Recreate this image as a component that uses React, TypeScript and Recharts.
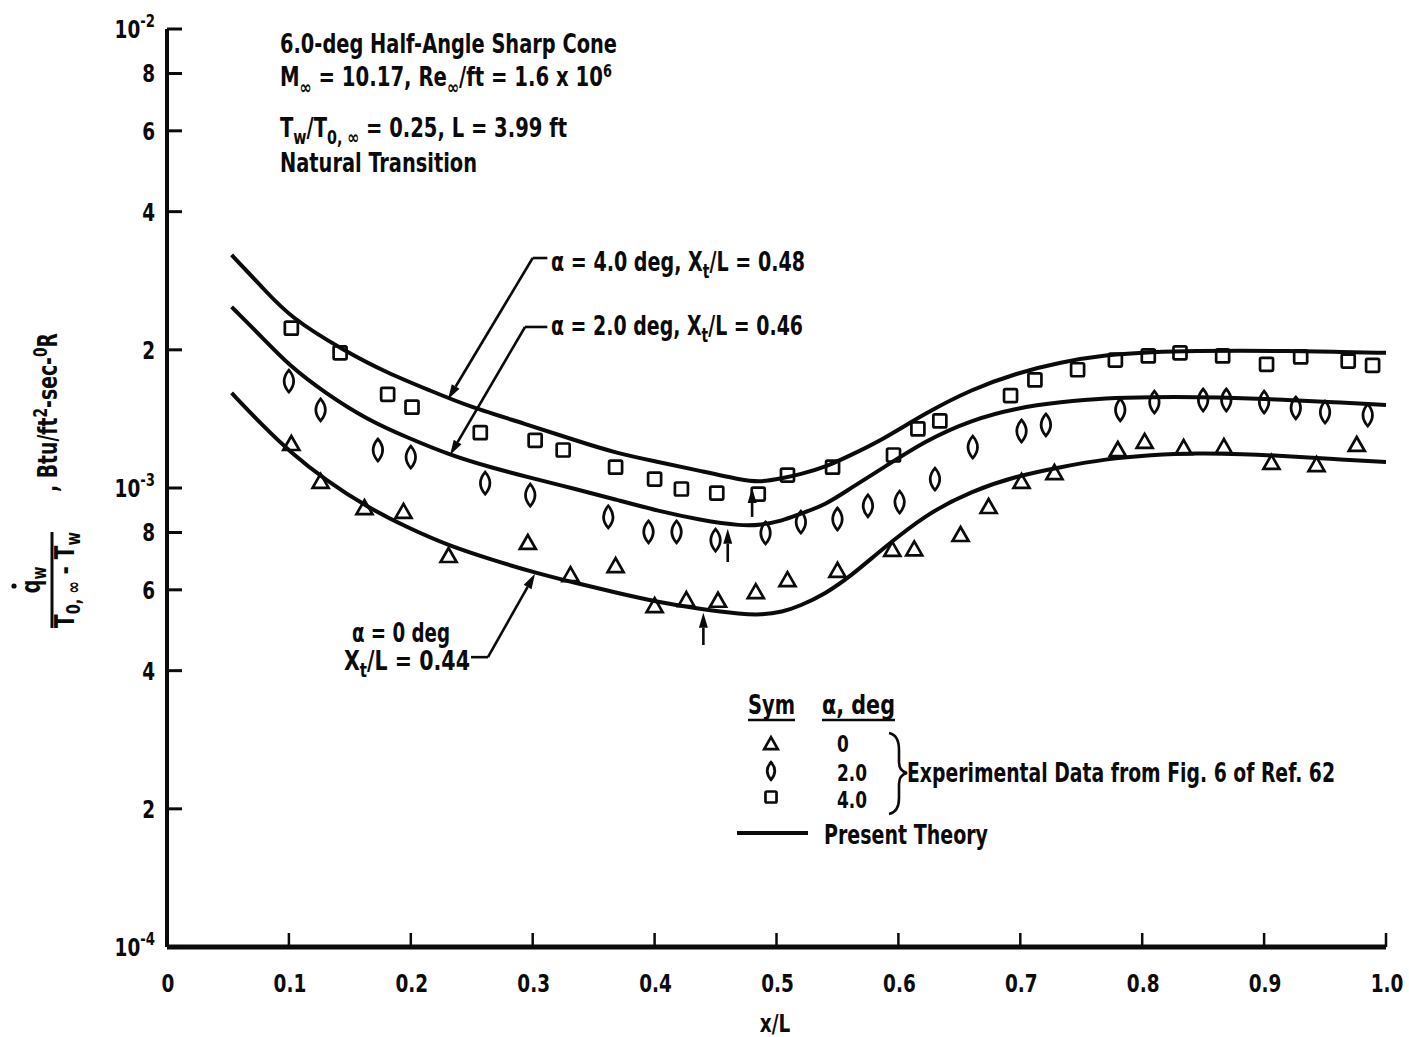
import { ComposedChart, Line, Scatter, XAxis, YAxis, ReferenceLine } from "recharts";

const W = 1409;
const H = 1037;
const PLOT_LEFT = 167;
const PLOT_BOTTOM = 947;

const FONT = "'Liberation Sans Narrow', 'Arial Narrow', 'DejaVu Sans Condensed', sans-serif";
const INK = "#0b0b0b";
const SX = 0.82; // horizontal squeeze for the lettering

// axis ticks
const xTicks = [0, 0.1, 0.2, 0.3, 0.4, 0.5, 0.6, 0.7, 0.8, 0.9, 1.0];
const xTickLabels = ["0", "0.1", "0.2", "0.3", "0.4", "0.5", "0.6", "0.7", "0.8", "0.9", "1.0"];
const yTicks = [1e-4, 2e-4, 4e-4, 6e-4, 8e-4, 1e-3, 2e-3, 4e-3, 6e-3, 8e-3, 1e-2];
const yTickBase = ["10", "2", "4", "6", "8", "10", "2", "4", "6", "8", "10"];
const yTickExp = ["-4", "", "", "", "", "-3", "", "", "", "", "-2"];

// experimental data, alpha = 0 deg (triangles)
const a0X = [0.102, 0.126, 0.162, 0.194, 0.231, 0.296, 0.331, 0.368, 0.4, 0.426, 0.452, 0.483, 0.509, 0.55, 0.595, 0.613, 0.651, 0.674, 0.701, 0.728, 0.78, 0.802, 0.834, 0.867, 0.906, 0.943, 0.976];
const a0Q = [1.247e-3, 1.031e-3, 0.904e-3, 0.887e-3, 0.711e-3, 0.759e-3, 0.646e-3, 0.676e-3, 0.553e-3, 0.57e-3, 0.568e-3, 0.593e-3, 0.63e-3, 0.66e-3, 0.733e-3, 0.735e-3, 0.79e-3, 0.909e-3, 1.031e-3, 1.078e-3, 1.21e-3, 1.26e-3, 1.222e-3, 1.228e-3, 1.134e-3, 1.122e-3, 1.241e-3];

// experimental data, alpha = 2 deg (diamonds)
const a2X = [0.1, 0.126, 0.173, 0.2, 0.261, 0.298, 0.362, 0.395, 0.418, 0.45, 0.491, 0.52, 0.55, 0.575, 0.601, 0.63, 0.661, 0.701, 0.721, 0.782, 0.81, 0.85, 0.869, 0.9, 0.926, 0.95, 0.985];
const a2Q = [1.71e-3, 1.48e-3, 1.21e-3, 1.168e-3, 1.025e-3, 0.965e-3, 0.865e-3, 0.802e-3, 0.802e-3, 0.77e-3, 0.798e-3, 0.843e-3, 0.856e-3, 0.914e-3, 0.932e-3, 1.046e-3, 1.228e-3, 1.331e-3, 1.372e-3, 1.479e-3, 1.539e-3, 1.555e-3, 1.555e-3, 1.539e-3, 1.494e-3, 1.464e-3, 1.442e-3];

// experimental data, alpha = 4 deg (squares)
const a4X = [0.102, 0.142, 0.181, 0.201, 0.257, 0.302, 0.325, 0.368, 0.4, 0.422, 0.451, 0.485, 0.509, 0.546, 0.596, 0.616, 0.634, 0.692, 0.712, 0.747, 0.778, 0.805, 0.831, 0.866, 0.902, 0.93, 0.969, 0.989];
const a4Q = [2.23e-3, 1.97e-3, 1.6e-3, 1.5e-3, 1.32e-3, 1.27e-3, 1.21e-3, 1.11e-3, 1.046e-3, 0.995e-3, 0.975e-3, 0.97e-3, 1.067e-3, 1.11e-3, 1.18e-3, 1.345e-3, 1.4e-3, 1.59e-3, 1.72e-3, 1.81e-3, 1.9e-3, 1.94e-3, 1.97e-3, 1.94e-3, 1.86e-3, 1.93e-3, 1.89e-3, 1.85e-3];

// present theory curves
const th0X = [0.053, 0.078, 0.101, 0.13, 0.164, 0.198, 0.232, 0.267, 0.3, 0.335, 0.369, 0.403, 0.437, 0.472, 0.487, 0.505, 0.519, 0.54, 0.561, 0.586, 0.623, 0.66, 0.697, 0.733, 0.77, 0.807, 0.845, 0.882, 0.919, 0.956, 1.0];
const th0Q = [1.611e-3, 1.372e-3, 1.198e-3, 1.041e-3, 0.909e-3, 0.818e-3, 0.747e-3, 0.697e-3, 0.656e-3, 0.621e-3, 0.591e-3, 0.564e-3, 0.545e-3, 0.531e-3, 0.529e-3, 0.537e-3, 0.553e-3, 0.588e-3, 0.643e-3, 0.733e-3, 0.878e-3, 0.985e-3, 1.062e-3, 1.111e-3, 1.157e-3, 1.18e-3, 1.192e-3, 1.186e-3, 1.174e-3, 1.157e-3, 1.139e-3];

const th2X = [0.053, 0.078, 0.101, 0.13, 0.164, 0.198, 0.232, 0.267, 0.3, 0.335, 0.369, 0.403, 0.437, 0.472, 0.487, 0.505, 0.519, 0.54, 0.561, 0.586, 0.623, 0.66, 0.697, 0.733, 0.77, 0.808, 0.845, 0.882, 0.919, 0.956, 1.0];
const th2Q = [2.48e-3, 2.13e-3, 1.84e-3, 1.61e-3, 1.41e-3, 1.285e-3, 1.18e-3, 1.106e-3, 1.05e-3, 0.995e-3, 0.942e-3, 0.891e-3, 0.852e-3, 0.826e-3, 0.831e-3, 0.848e-3, 0.878e-3, 0.918e-3, 1.0e-3, 1.1e-3, 1.272e-3, 1.407e-3, 1.494e-3, 1.539e-3, 1.571e-3, 1.578e-3, 1.578e-3, 1.571e-3, 1.555e-3, 1.539e-3, 1.517e-3];

const th4X = [0.053, 0.078, 0.101, 0.147, 0.181, 0.216, 0.249, 0.294, 0.335, 0.369, 0.403, 0.437, 0.472, 0.487, 0.505, 0.519, 0.54, 0.561, 0.586, 0.623, 0.66, 0.697, 0.733, 0.77, 0.808, 0.845, 0.882, 0.919, 0.956, 1.0];
const th4Q = [3.22e-3, 2.74e-3, 2.35e-3, 1.98e-3, 1.78e-3, 1.63e-3, 1.5e-3, 1.38e-3, 1.27e-3, 1.19e-3, 1.14e-3, 1.09e-3, 1.04e-3, 1.03e-3, 1.05e-3, 1.07e-3, 1.11e-3, 1.18e-3, 1.27e-3, 1.46e-3, 1.64e-3, 1.78e-3, 1.88e-3, 1.95e-3, 1.98e-3, 1.99e-3, 1.99e-3, 1.99e-3, 1.98e-3, 1.97e-3];

// transition locations Xt/L and arrow extents
const transX = [0.44, 0.46, 0.48];
const transFrom = [4.55e-4, 6.9e-4, 8.65e-4];
const transTo = [5.35e-4, 8.15e-4, 1.0e-3];

const pts = (xs: number[], ys: number[]) => xs.map((x, i) => ({ x, y: ys[i] }));

const triangleMark = (cx: number, cy: number, s = 1) => (
  <polygon
    points={`${cx},${cy - 8 * s} ${cx - 8 * s},${cy + 6 * s} ${cx + 8 * s},${cy + 6 * s}`}
    fill="none"
    stroke={INK}
    strokeWidth={2.7}
  />
);

const lensMark = (cx: number, cy: number, s = 1) => (
  <path
    d={`M${cx},${cy - 11 * s} Q${cx + 9.5 * s},${cy} ${cx},${cy + 11 * s} Q${cx - 9.5 * s},${cy} ${cx},${cy - 11 * s}Z`}
    fill="none"
    stroke={INK}
    strokeWidth={2.7}
  />
);

const squareMark = (cx: number, cy: number, s = 1) => (
  <rect
    x={cx - 6.5 * s}
    y={cy - 6.5 * s}
    width={13 * s}
    height={13 * s}
    rx={1.5}
    fill="none"
    stroke={INK}
    strokeWidth={2.7}
  />
);

const arrowLine = (props: any) => {
  const { x1, y1, x2, y2 } = props;
  const dx = x2 - x1;
  const dy = y2 - y1;
  const len = Math.hypot(dx, dy) || 1;
  const ux = dx / len;
  const uy = dy / len;
  const head = 15;
  const half = 4.5;
  const bx = x2 - ux * head;
  const by = y2 - uy * head;
  return (
    <g>
      <line x1={x1} y1={y1} x2={bx} y2={by} stroke={INK} strokeWidth={2.6} />
      <polygon
        points={`${x2},${y2} ${bx - uy * half},${by + ux * half} ${bx + uy * half},${by - ux * half}`}
        fill={INK}
      />
    </g>
  );
};

// narrow bold lettering; w = drawn width in px when given
const Label = ({ x, y, w, size = 26, anchor = "start", children }: any) => (
  <text
    transform={`translate(${x},${y}) scale(${SX},1)`}
    textLength={w ? w / SX : undefined}
    lengthAdjust={w ? "spacingAndGlyphs" : undefined}
    textAnchor={anchor}
    fontFamily={FONT}
    fontWeight="bold"
    fontSize={size}
    fill={INK}
  >
    {children}
  </text>
);

const XTick = (props: any) => {
  const { payload } = props;
  const x = payload.coordinate;
  const i = xTicks.findIndex((v) => Math.abs(v - payload.value) < 1e-9);
  return (
    <g>
      <line x1={x} x2={x} y1={PLOT_BOTTOM} y2={PLOT_BOTTOM - 14} stroke={INK} strokeWidth={2.5} />
      <Label x={x + 1} y={992} size={25} anchor="middle">
        {xTickLabels[i]}
      </Label>
    </g>
  );
};

const YTick = (props: any) => {
  const { payload } = props;
  const y = payload.coordinate;
  const i = yTicks.findIndex((v) => Math.abs(v - payload.value) / v < 1e-6);
  return (
    <g>
      <line x1={PLOT_LEFT} x2={PLOT_LEFT + 15} y1={y} y2={y} stroke={INK} strokeWidth={3} />
      <Label x={155} y={y + 9} size={25} anchor="end">
        {yTickBase[i]}
        {yTickExp[i] && (
          <tspan fontSize={18} dy={-11}>
            {yTickExp[i]}
          </tspan>
        )}
      </Label>
    </g>
  );
};

const sub = { fontSize: 19 };

export default function App() {
  return (
    <div style={{ position: "absolute", left: 0, top: 0, width: W, height: H, background: "#fff" }}>
      <ComposedChart width={W} height={H} margin={{ top: 29, right: 23, bottom: 30, left: 107 }}>
        <XAxis
          type="number"
          dataKey="x"
          domain={[0, 1]}
          ticks={xTicks}
          interval={0}
          allowDataOverflow
          height={60}
          tickLine={false}
          axisLine={{ stroke: INK, strokeWidth: 5 }}
          tick={(p: any) => <XTick {...p} />}
        />
        <YAxis
          type="number"
          scale="log"
          domain={[1e-4, 1e-2]}
          ticks={yTicks}
          interval={0}
          allowDataOverflow
          width={60}
          tickLine={false}
          axisLine={{ stroke: INK, strokeWidth: 4 }}
          tick={(p: any) => <YTick {...p} />}
        />

        <Line data={pts(th0X, th0Q)} dataKey="y" type="basis" stroke={INK} strokeWidth={4} dot={false} isAnimationActive={false} />
        <Line data={pts(th2X, th2Q)} dataKey="y" type="basis" stroke={INK} strokeWidth={4} dot={false} isAnimationActive={false} />
        <Line data={pts(th4X, th4Q)} dataKey="y" type="basis" stroke={INK} strokeWidth={4} dot={false} isAnimationActive={false} />

        <Scatter data={pts(a0X, a0Q)} dataKey="y" isAnimationActive={false} shape={(p: any) => triangleMark(p.cx, p.cy)} />
        <Scatter data={pts(a2X, a2Q)} dataKey="y" isAnimationActive={false} shape={(p: any) => lensMark(p.cx, p.cy)} />
        <Scatter data={pts(a4X, a4Q)} dataKey="y" isAnimationActive={false} shape={(p: any) => squareMark(p.cx, p.cy)} />

        {/* transition-point arrows */}
        {transX.map((x, i) => (
          <ReferenceLine
            key={`tr-${i}`}
            segment={[{ x, y: transFrom[i] }, { x, y: transTo[i] }]}
            ifOverflow="visible"
            shape={arrowLine}
          />
        ))}

        {/* leader lines for the curve labels */}
        <ReferenceLine segment={[{ x: 0.312, y: 3.17e-3 }, { x: 0.3, y: 3.17e-3 }]} stroke={INK} strokeWidth={2.6} ifOverflow="visible" />
        <ReferenceLine segment={[{ x: 0.3, y: 3.17e-3 }, { x: 0.2305, y: 1.56e-3 }]} ifOverflow="visible" shape={arrowLine} />
        <ReferenceLine segment={[{ x: 0.312, y: 2.243e-3 }, { x: 0.2937, y: 2.243e-3 }]} stroke={INK} strokeWidth={2.6} ifOverflow="visible" />
        <ReferenceLine segment={[{ x: 0.2937, y: 2.243e-3 }, { x: 0.2322, y: 1.18e-3 }]} ifOverflow="visible" shape={arrowLine} />
        <ReferenceLine segment={[{ x: 0.2494, y: 4.28e-4 }, { x: 0.2633, y: 4.28e-4 }]} stroke={INK} strokeWidth={2.6} ifOverflow="visible" />
        <ReferenceLine segment={[{ x: 0.2633, y: 4.28e-4 }, { x: 0.3019, y: 0.65e-3 }]} ifOverflow="visible" shape={arrowLine} />
      </ComposedChart>

      <svg width={W} height={H} style={{ position: "absolute", left: 0, top: 0, pointerEvents: "none" }}>
        {/* case description */}
        <Label x={280} y={53} w={337}>6.0-deg Half-Angle Sharp Cone</Label>
        <Label x={280} y={86} w={332}>
          M<tspan {...sub} dy={8}>∞</tspan>
          <tspan dy={-8}> = 10.17,  Re</tspan>
          <tspan {...sub} dy={8}>∞</tspan>
          <tspan dy={-8}>/ft = 1.6 x 10</tspan>
          <tspan fontSize={17} dy={-9}>6</tspan>
        </Label>
        <Label x={280} y={137} w={287}>
          T<tspan {...sub} dy={7}>w</tspan>
          <tspan dy={-7}>/T</tspan>
          <tspan {...sub} dy={7}>0, ∞</tspan>
          <tspan dy={-7}> = 0.25,  L = 3.99 ft</tspan>
        </Label>
        <Label x={280} y={172} w={197}>Natural Transition</Label>

        {/* curve labels */}
        <Label x={551} y={271} w={254}>
          α = 4.0 deg,  X<tspan {...sub} dy={7}>t</tspan>
          <tspan dy={-7}>/L = 0.48</tspan>
        </Label>
        <Label x={551} y={335} w={252}>
          α = 2.0 deg,  X<tspan {...sub} dy={7}>t</tspan>
          <tspan dy={-7}>/L = 0.46</tspan>
        </Label>
        <Label x={352} y={642} w={98}>α = 0 deg</Label>
        <Label x={344} y={670} w={126}>
          X<tspan {...sub} dy={7}>t</tspan>
          <tspan dy={-7}>/L = 0.44</tspan>
        </Label>

        {/* key */}
        <Label x={748} y={714} w={47}>Sym</Label>
        <line x1={748} x2={795} y1={720} y2={720} stroke={INK} strokeWidth={2.5} />
        <Label x={822} y={714} w={73}>α, deg</Label>
        <line x1={822} x2={895} y1={720} y2={720} stroke={INK} strokeWidth={2.5} />
        {triangleMark(771, 744, 0.85)}
        {lensMark(771, 771, 0.8)}
        {squareMark(771, 797, 0.85)}
        <Label x={837} y={752} size={23}>0</Label>
        <Label x={837} y={781} size={23}>2.0</Label>
        <Label x={837} y={808} size={23}>4.0</Label>
        <path
          d="M889,733 Q899,735 899,750 L899,762 Q899,771 907,773 Q899,775 899,784 L899,798 Q899,812 889,814"
          fill="none"
          stroke={INK}
          strokeWidth={2.6}
        />
        <Label x={907} y={782} w={428}>Experimental Data from Fig. 6 of Ref. 62</Label>
        <line x1={737} x2={808} y1={833} y2={833} stroke={INK} strokeWidth={4} />
        <Label x={824} y={844} w={164}>Present Theory</Label>

        {/* axis titles */}
        <Label x={775} y={1032} size={25} anchor="middle">x/L</Label>
        <g transform="translate(52,580) rotate(-90)">
          <circle cx={-6} cy={-38} r={2.6} fill={INK} />
          <Label x={0} y={-12} anchor="middle">
            q<tspan {...sub} dy={6}>w</tspan>
          </Label>
          <line x1={-48} x2={48} y1={0} y2={0} stroke={INK} strokeWidth={3} />
          <Label x={-48} y={22} w={96}>
            T<tspan {...sub} dy={6}>0, ∞</tspan>
            <tspan dy={-6}> - T</tspan>
            <tspan {...sub} dy={6}>w</tspan>
          </Label>
          <Label x={88} y={5} w={159}>
            ,  Btu/ft<tspan {...sub} dy={-10}>2</tspan>
            <tspan dy={10}>-sec-</tspan>
            <tspan {...sub} dy={-10}>0</tspan>
            <tspan dy={10}>R</tspan>
          </Label>
        </g>
      </svg>
    </div>
  );
}
